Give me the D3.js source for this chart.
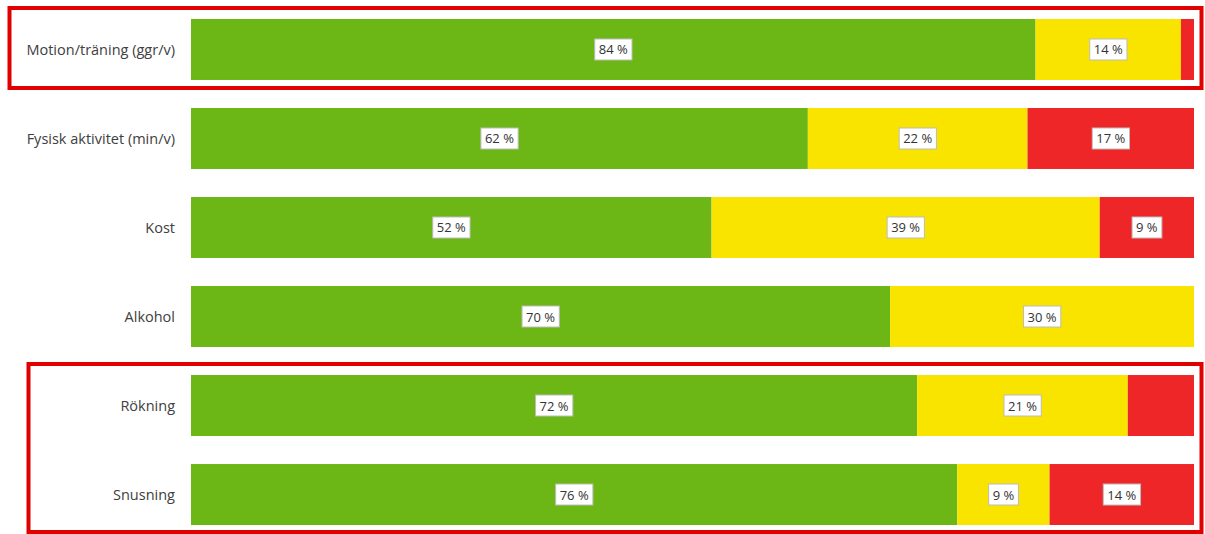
<!DOCTYPE html>
<html>
<head>
<meta charset="utf-8">
<script src="https://cdn.jsdelivr.net/npm/d3@7"></script>
<style>
  html, body { margin: 0; padding: 0; background: #fff; }
  svg { display: block; }
</style>
</head>
<body>
<svg id="chart" width="1205" height="534"></svg>
<script>
const categories = ["Motion/träning (ggr/v)", "Fysisk aktivitet (min/v)", "Kost", "Alkohol", "Rökning", "Snusning"];
const greenValues  = [84.2, 61.5, 51.9, 69.7, 72.4, 76.4];
const yellowValues = [14.5, 21.9, 38.7, 30.3, 21.0, 9.2];
const redValues    = [1.3, 16.6, 9.4, 0, 6.6, 14.4];
const greenLabels  = ["84 %", "62 %", "52 %", "70 %", "72 %", "76 %"];
const yellowLabels = ["14 %", "22 %", "39 %", "30 %", "21 %", "9 %"];
const redLabels    = [null, "17 %", "9 %", null, null, "14 %"];

const seriesNames = ["green", "yellow", "red"];
const colors = { green: "#6cb716", yellow: "#f9e400", red: "#ee2628" };

const rows = categories.map((c, i) => ({
  category: c,
  green: greenValues[i], yellow: yellowValues[i], red: redValues[i],
  labels: { green: greenLabels[i], yellow: yellowLabels[i], red: redLabels[i] }
}));

const svg = d3.select("#chart");
const x = d3.scaleLinear().domain([0, 100]).range([191, 1194]);
const y = d3.scaleBand().domain(categories).range([19, 525]).paddingInner(0.315).paddingOuter(0);

const stacked = d3.stack().keys(seriesNames)(rows);

const layers = svg.append("g").selectAll("g").data(stacked).join("g")
  .attr("fill", d => colors[d.key]);

layers.selectAll("rect").data(d => d.map(p => ({ p, key: d.key })))
  .join("rect")
  .attr("x", d => x(d.p[0]))
  .attr("y", d => y(d.p.data.category))
  .attr("width", d => Math.max(0, x(d.p[1]) - x(d.p[0])))
  .attr("height", y.bandwidth());

// value labels
const labelG = svg.append("g");
stacked.forEach(layer => {
  layer.forEach(p => {
    const txt = p.data.labels[layer.key];
    if (!txt) return;
    const cx = (x(p[0]) + x(p[1])) / 2;
    const cy = y(p.data.category) + y.bandwidth() / 2;
    const g = labelG.append("g");
    const t = g.append("text")
      .attr("x", cx).attr("y", cy)
      .attr("text-anchor", "middle")
      .attr("dominant-baseline", "central")
      .attr("font-family", "'Open Sans', sans-serif")
      .attr("font-size", 13)
      .attr("fill", "#333")
      .text(txt);
    const bb = t.node().getBBox();
    g.insert("rect", "text")
      .attr("x", bb.x - 4).attr("y", cy - 10.5)
      .attr("width", bb.width + 8).attr("height", 21)
      .attr("fill", "#fff")
      .attr("stroke", "#bcbcbc")
      .attr("stroke-width", 1);
  });
});

// category labels
svg.append("g").selectAll("text").data(categories).join("text")
  .attr("x", 175)
  .attr("y", d => y(d) + y.bandwidth() / 2)
  .attr("text-anchor", "end")
  .attr("dominant-baseline", "central")
  .attr("font-family", "'Open Sans', sans-serif")
  .attr("font-size", 14.5)
  .attr("fill", "#404040")
  .text(d => d);

// highlight boxes
const boxes = [
  { x0: 9.5, x1: 1201.5, y0: 8, y1: 88 },
  { x0: 28.5, x1: 1201.5, y0: 364, y1: 532 }
];
svg.append("g").selectAll("rect").data(boxes).join("rect")
  .attr("x", d => d.x0).attr("y", d => d.y0)
  .attr("width", d => d.x1 - d.x0).attr("height", d => d.y1 - d.y0)
  .attr("fill", "none")
  .attr("stroke", "#e00000")
  .attr("stroke-width", 4);
</script>
</body>
</html>
